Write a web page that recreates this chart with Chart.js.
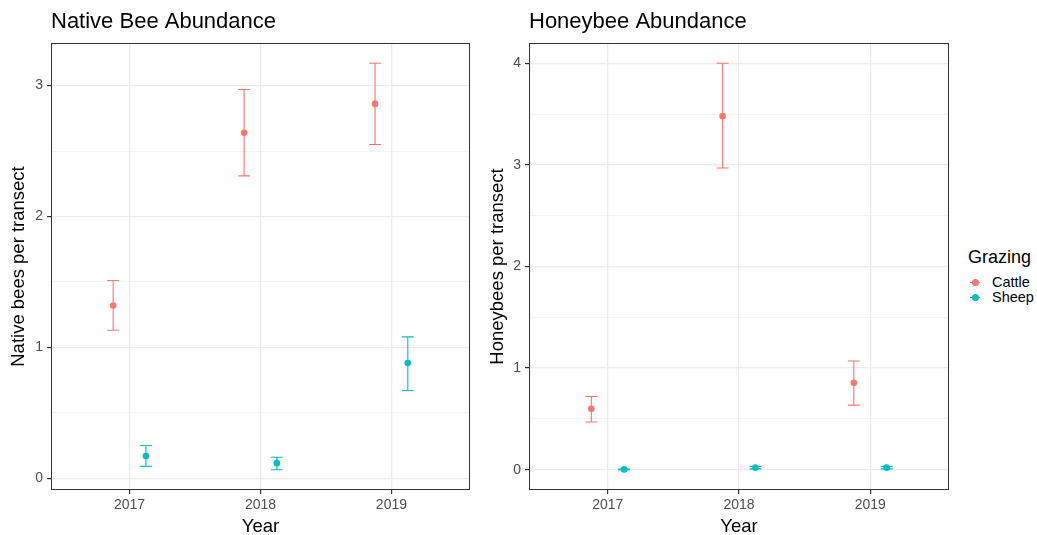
<!DOCTYPE html>
<html>
<head>
    <title>Bee Abundance by Grazing</title>
    <script src="https://cdn.jsdelivr.net/npm/chart.js@4.4.0/dist/chart.umd.min.js"></script>
    <style>
        body { margin: 0; background: #fff; font-family: "Liberation Sans", Arial, sans-serif; }
        .wrap { position: relative; width: 1037px; height: 535px; }
        .panel { position: absolute; top: 0; height: 535px; }
        .legend { position: absolute; left: 968px; top: 246px; color: #000; }
        .legend .head { font-size: 18px; line-height: 22px; margin-bottom: 7px; }
        .legend .item { position: relative; height: 15px; font-size: 14.5px; line-height: 15px; padding-left: 24px; }
        .legend .line { position: absolute; left: 2px; top: 7px; width: 10px; height: 1px; }
        .legend .dot { position: absolute; left: 3.5px; top: 4px; width: 7px; height: 7px; border-radius: 50%; }
    </style>
</head>
<body>
<div class="wrap">
    <div class="panel" style="left:0; width:475px;"><canvas id="nativeChart"></canvas></div>
    <div class="panel" style="left:480px; width:474px;"><canvas id="honeyChart"></canvas></div>
    <div class="legend" id="legend"></div>
</div>

<script>
    // years on the x axis
    var years = ['2017', '2018', '2019'];
    var groups = ['Cattle', 'Sheep'];
    var groupColors = ['#F8766D', '#00BFC4'];

    // native bees per transect (mean, lower, upper)
    var nativeCattle   = [1.32, 2.64, 2.86];
    var nativeCattleLo = [1.13, 2.31, 2.55];
    var nativeCattleHi = [1.51, 2.97, 3.17];
    var nativeSheep    = [0.17, 0.115, 0.88];
    var nativeSheepLo  = [0.09, 0.065, 0.67];
    var nativeSheepHi  = [0.25, 0.16, 1.08];

    // honeybees per transect (mean, lower, upper)
    var honeyCattle   = [0.60, 3.48, 0.855];
    var honeyCattleLo = [0.47, 2.97, 0.635];
    var honeyCattleHi = [0.72, 4.00, 1.07];
    var honeySheep    = [0.003, 0.02, 0.02];
    var honeySheepLo  = [0.0, 0.008, 0.008];
    var honeySheepHi  = [0.006, 0.032, 0.032];

    // y tick values (major + minor)
    var nativeTicks = [0, 0.5, 1, 1.5, 2, 2.5, 3];
    var honeyTicks = [0, 0.5, 1, 1.5, 2, 2.5, 3, 3.5, 4];

    var dodge = 0.125;

    function makeSet(label, color, means, lo, hi, shift) {
        return {
            label: label,
            data: means.map(function (m, i) {
                return { x: i + 1 + shift, y: m, lo: lo[i], hi: hi[i] };
            }),
            backgroundColor: color,
            borderColor: color,
            pointRadius: 3.3,
            pointBorderWidth: 0,
            showLine: false
        };
    }

    // draws error bars and the panel border
    var errorBars = {
        id: 'errorBars',
        beforeDatasetsDraw: function (chart) {
            var c = chart.ctx, xs = chart.scales.x, ys = chart.scales.y;
            c.save();
            chart.data.datasets.forEach(function (ds) {
                c.strokeStyle = ds.borderColor;
                c.lineWidth = 1.1;
                ds.data.forEach(function (p) {
                    var x = xs.getPixelForValue(p.x);
                    var y1 = ys.getPixelForValue(p.lo);
                    var y2 = ys.getPixelForValue(p.hi);
                    c.beginPath();
                    c.moveTo(x, y1); c.lineTo(x, y2);
                    c.moveTo(x - 6, y1); c.lineTo(x + 6, y1);
                    c.moveTo(x - 6, y2); c.lineTo(x + 6, y2);
                    c.stroke();
                });
            });
            c.restore();
        },
        afterDraw: function (chart) {
            var a = chart.chartArea, c = chart.ctx;
            c.save();
            c.strokeStyle = '#333333';
            c.lineWidth = 1;
            c.strokeRect(a.left + 0.5, a.top + 0.5, a.right - a.left - 1, a.bottom - a.top - 1);
            c.restore();
        }
    };

    function expand(lo, hi) {
        var mn = Math.min.apply(null, lo), mx = Math.max.apply(null, hi);
        var pad = (mx - mn) * 0.05;
        return [mn - pad, mx + pad];
    }

    function makeChart(id, title, yTitle, sets, tickVals, range, yWidth, yTitlePad) {
        var isMajor = function (v) { return Math.abs(v - Math.round(v)) < 1e-9; };
        return new Chart(document.getElementById(id), {
            type: 'scatter',
            data: { datasets: sets },
            options: {
                responsive: true,
                maintainAspectRatio: false,
                animation: false,
                layout: { padding: { left: 0, right: 5, top: 0, bottom: 0 } },
                plugins: {
                    legend: { display: false },
                    tooltip: { enabled: false },
                    title: {
                        display: true,
                        text: title,
                        align: 'start',
                        fullSize: false,
                        color: '#000',
                        font: { family: 'Liberation Sans', size: 22, weight: 'normal', lineHeight: 1.2 },
                        padding: { top: 9, bottom: 7.6 }
                    }
                },
                scales: {
                    x: {
                        type: 'linear',
                        min: 0.4,
                        max: 3.6,
                        afterBuildTicks: function (s) {
                            s.ticks = years.map(function (y, i) { return { value: i + 1 }; });
                        },
                        afterFit: function (s) { s.height = 45; },
                        ticks: {
                            color: '#4d4d4d',
                            font: { family: 'Liberation Sans', size: 14 },
                            padding: 3,
                            maxRotation: 0,
                            callback: function (v) { return years[Math.round(v) - 1]; }
                        },
                        grid: { color: '#ebebeb', lineWidth: 1.2, tickLength: 4, tickColor: '#333333' },
                        border: { display: false },
                        title: {
                            display: true,
                            text: 'Year',
                            color: '#000',
                            font: { family: 'Liberation Sans', size: 18.5, lineHeight: 1 },
                            padding: { top: 0, bottom: -1.5 }
                        }
                    },
                    y: {
                        min: range[0],
                        max: range[1],
                        afterBuildTicks: function (s) {
                            s.ticks = tickVals.map(function (v) { return { value: v }; });
                        },
                        afterFit: function (s) { s.width = yWidth; },
                        ticks: {
                            color: '#4d4d4d',
                            font: { family: 'Liberation Sans', size: 14 },
                            padding: 4,
                            autoSkip: false,
                            callback: function (v) { return isMajor(v) ? String(v) : ''; }
                        },
                        grid: {
                            color: '#ebebeb',
                            lineWidth: function (ctx) { return ctx.tick && isMajor(ctx.tick.value) ? 1.2 : 0.6; },
                            tickLength: 4,
                            tickColor: function (ctx) { return ctx.tick && isMajor(ctx.tick.value) ? '#333333' : 'rgba(0,0,0,0)'; }
                        },
                        border: { display: false },
                        title: {
                            display: true,
                            text: yTitle,
                            color: '#000',
                            font: { family: 'Liberation Sans', size: 18.5, lineHeight: 1.2 },
                            padding: { top: yTitlePad, bottom: 0 }
                        }
                    }
                }
            },
            plugins: [errorBars]
        });
    }

    makeChart('nativeChart', 'Native Bee Abundance', 'Native bees per transect', [
        makeSet(groups[0], groupColors[0], nativeCattle, nativeCattleLo, nativeCattleHi, -dodge),
        makeSet(groups[1], groupColors[1], nativeSheep, nativeSheepLo, nativeSheepHi, dodge)
    ], nativeTicks, expand(nativeCattleLo.concat(nativeSheepLo), nativeCattleHi.concat(nativeSheepHi)), 51, 7.4);

    makeChart('honeyChart', 'Honeybee Abundance', 'Honeybees per transect', [
        makeSet(groups[0], groupColors[0], honeyCattle, honeyCattleLo, honeyCattleHi, -dodge),
        makeSet(groups[1], groupColors[1], honeySheep, honeySheepLo, honeySheepHi, dodge)
    ], honeyTicks, expand(honeyCattleLo.concat(honeySheepLo), honeyCattleHi.concat(honeySheepHi)), 49, 6.4);

    // legend
    var legend = document.getElementById('legend');
    var head = document.createElement('div');
    head.className = 'head';
    head.textContent = 'Grazing';
    legend.appendChild(head);
    groups.forEach(function (g, i) {
        var item = document.createElement('div');
        item.className = 'item';
        item.innerHTML = '<span class="line" style="background:' + groupColors[i] + '"></span>' +
            '<span class="dot" style="background:' + groupColors[i] + '"></span>';
        item.appendChild(document.createTextNode(g));
        legend.appendChild(item);
    });
</script>
</body>
</html>
